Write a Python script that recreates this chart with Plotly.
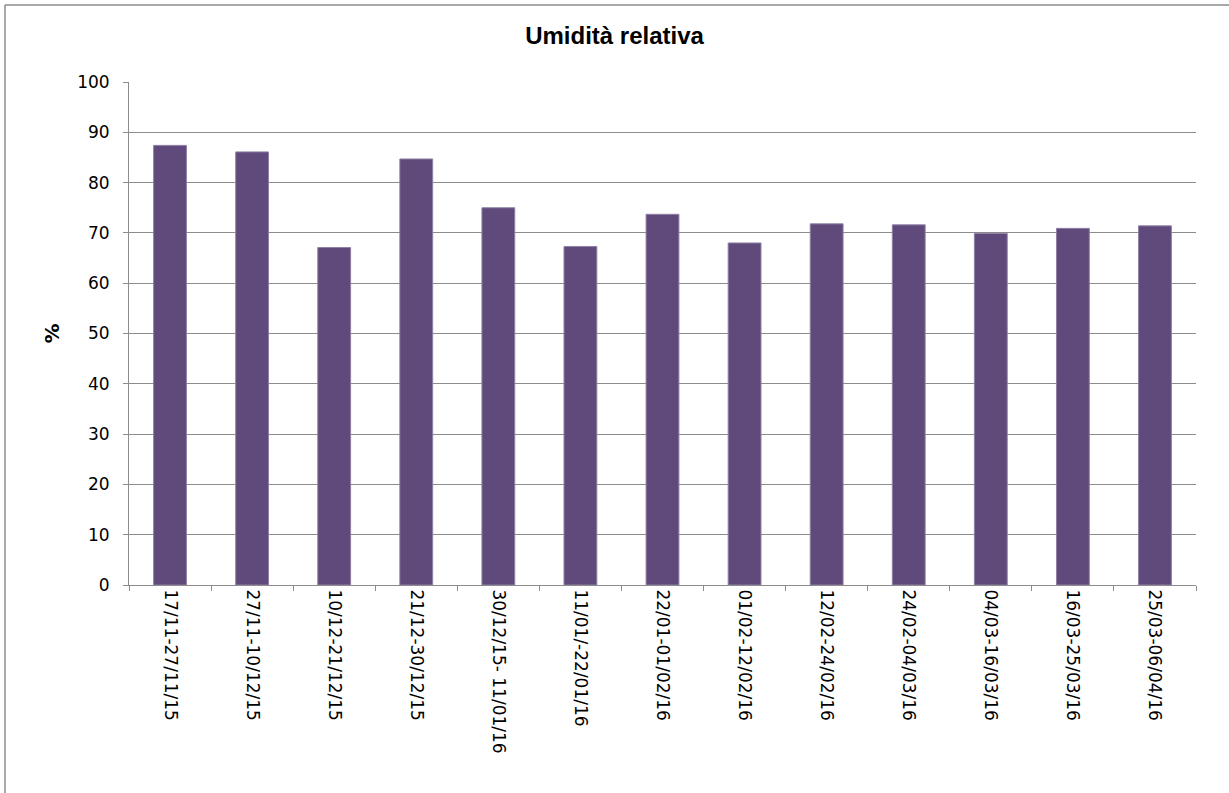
import plotly.graph_objects as go

categories = [
    "17/11-27/11/15", "27/11-10/12/15", "10/12-21/12/15", "21/12-30/12/15",
    "30/12/15- 11/01/16", "11/01/-22/01/16", "22/01-01/02/16", "01/02-12/02/16",
    "12/02-24/02/16", "24/02-04/03/16", "04/03-16/03/16", "16/03-25/03/16",
    "25/03-06/04/16",
]
humidity = [87.4, 86.1, 67.1, 84.7, 75.0, 67.3, 73.7, 68.0, 71.8, 71.6, 69.9, 70.9, 71.4]
y_ticks = [0, 10, 20, 30, 40, 50, 60, 70, 80, 90, 100]

W, H = 1229, 793
L, R, T, B = 129, 33, 82, 208
pw, ph = W - L - R, H - T - B

fig = go.Figure(go.Bar(
    x=categories, y=humidity,
    marker=dict(color="#604A7B", line=dict(color="#8F80A6", width=1)),
    width=0.4,
))

grid = "#8C8C8C"
fig.update_layout(
    width=W, height=H,
    margin=dict(l=L, r=R, t=T, b=B, pad=0),
    paper_bgcolor="white", plot_bgcolor="white",
    showlegend=False,
    title=dict(text="<b>Umidità relativa</b>", x=0.5, xref="container", xanchor="center",
               y=1 - 36 / H, yref="container", yanchor="middle",
               font=dict(family="Liberation Sans, Arial, sans-serif", size=24, color="black")),
    font=dict(family="DejaVu Sans, sans-serif", size=17, color="black"),
    bargap=0.6,
)
fig.update_xaxes(
    type="category", tickangle=90, tickson="boundaries", ticks="outside", ticklen=5,
    tickcolor=grid, showline=True, linecolor=grid, linewidth=1, showgrid=False,
    tickfont=dict(family="DejaVu Sans, sans-serif", size=17, color="black"),
    range=[-0.5, len(categories) - 0.5],
)
fig.update_yaxes(
    range=[0, 100], tickvals=y_ticks, ticks="outside", ticklen=5, tickcolor=grid,
    showline=True, linecolor=grid, linewidth=1, showgrid=True, gridcolor=grid, gridwidth=1,
    tickfont=dict(family="DejaVu Sans, sans-serif", size=17, color="black"),
    ticklabelstandoff=10, zeroline=False,
)
fig.add_annotation(
    text="<b>%</b>", xref="paper", yref="paper", x=(51 - L) / pw, y=0.5,
    showarrow=False, textangle=-90, xanchor="center", yanchor="middle",
    font=dict(family="DejaVu Sans, sans-serif", size=20, color="black"),
)
# outer chart border (top and left visible)
x0 = (5 - L) / pw
x1 = (W + 10 - L) / pw
ytop = 1 + (T - 5) / ph
ybot = -(B + 10) / ph
fig.add_shape(type="line", xref="paper", yref="paper", x0=x0, x1=x1, y0=ytop, y1=ytop,
              line=dict(color="#8C8C8C", width=1.5))
fig.add_shape(type="line", xref="paper", yref="paper", x0=x0, x1=x0, y0=ytop, y1=ybot,
              line=dict(color="#8C8C8C", width=1.5))

fig.write_html("out.html", config={"displayModeBar": False},
               post_script="document.body.style.margin='0px';document.body.style.overflow='hidden';")
